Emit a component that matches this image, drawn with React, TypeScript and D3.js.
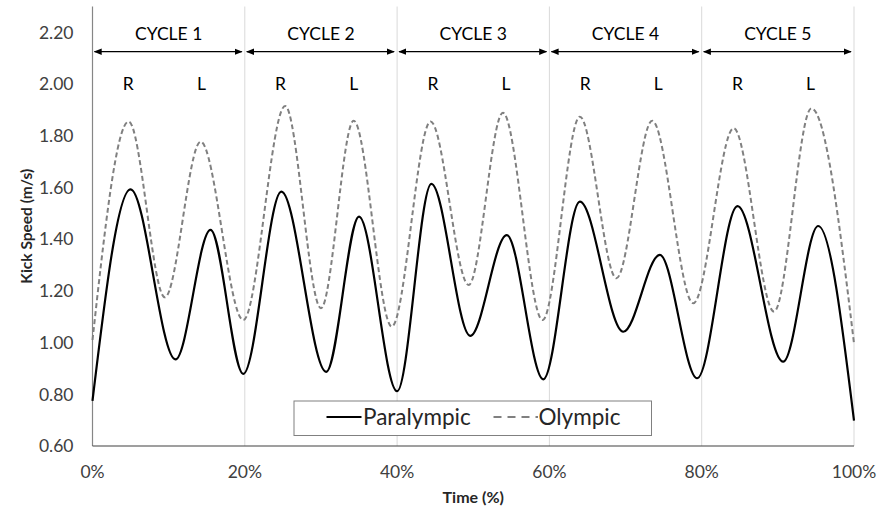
import React from 'react';
import * as d3 from 'd3';

// Paralympic curve: extrema (time %, m/s)
const paraTime = [0, 5.0, 10.9, 15.5, 19.8, 24.8, 30.7, 35.0, 40.0, 44.5, 49.6, 54.4, 59.2, 64.0, 69.7, 74.5, 79.4, 84.7, 90.7, 95.3, 100];
const paraSpeed = [0.775, 1.593, 0.935, 1.436, 0.879, 1.584, 0.887, 1.487, 0.812, 1.614, 1.026, 1.416, 0.858, 1.545, 1.042, 1.339, 0.862, 1.528, 0.926, 1.451, 0.698];

// Olympic curve
const olyTime = [0, 4.75, 9.5, 14.2, 19.8, 25.3, 30.0, 34.3, 39.3, 44.4, 49.4, 53.9, 59.1, 64.0, 68.8, 73.5, 78.9, 84.2, 89.5, 94.4, 100];
const olySpeed = [1.01, 1.855, 1.175, 1.777, 1.087, 1.915, 1.133, 1.858, 1.062, 1.855, 1.223, 1.889, 1.087, 1.874, 1.249, 1.858, 1.152, 1.829, 1.12, 1.906, 0.997];

const yTicks = [0.6, 0.8, 1.0, 1.2, 1.4, 1.6, 1.8, 2.0, 2.2];
const xTicks = [0, 20, 40, 60, 80, 100];
const cycles = ['CYCLE 1', 'CYCLE 2', 'CYCLE 3', 'CYCLE 4', 'CYCLE 5'];
const rlOffsets = [{ label: 'R', at: 4.7 }, { label: 'L', at: 14.3 }];

const W = 877;
const H = 509;
const FONT = 'Lato, "Open Sans", sans-serif';

const App = () => {
  const x = d3.scaleLinear().domain([0, 100]).range([92.5, 854]);
  const y = d3.scaleLinear().domain([0.6, 2.3]).range([446, 6.5]);

  const line = d3.line<[number, number]>()
    .x(d => x(d[0]))
    .y(d => y(d[1]))
    .curve(d3.curveMonotoneX);

  const paraPath = line(paraTime.map((t, i) => [t, paraSpeed[i]])) || '';
  const olyPath = line(olyTime.map((t, i) => [t, olySpeed[i]])) || '';

  const arrowY = 51.7;

  return (
    <svg width={W} height={H} style={{ position: 'absolute', left: 0, top: 0, background: '#fff' }} fontFamily={FONT}>
      <defs>
        <marker id="ah" viewBox="0 0 10 10" refX="9" refY="5" markerWidth="8" markerHeight="8" orient="auto-start-reverse" markerUnits="userSpaceOnUse">
          <path d="M0,1 L10,5 L0,9 Z" fill="#000" />
        </marker>
      </defs>

      {/* vertical gridlines */}
      {xTicks.slice(1).map(t => (
        <line key={t} x1={x(t)} x2={x(t)} y1={y(2.3)} y2={y(0.6)} stroke="#d9d9d9" strokeWidth={1} />
      ))}

      {/* axes */}
      <line x1={x(0)} x2={x(0)} y1={y(2.3)} y2={y(0.6)} stroke="#868686" strokeWidth={1.2} />
      <line x1={x(0)} x2={x(100)} y1={y(0.6)} y2={y(0.6)} stroke="#404040" strokeWidth={1.2} />

      {/* y tick labels */}
      {yTicks.map(v => (
        <text key={v} x={73.5} y={y(v)} dy="0.36em" textAnchor="end" fontSize={17.5} fill="#404040">
          {d3.format('.2f')(v)}
        </text>
      ))}

      {/* x tick labels */}
      {xTicks.map(t => (
        <text key={t} x={x(t)} y={478} textAnchor="middle" fontSize={17.5} fill="#404040">
          {t + '%'}
        </text>
      ))}

      {/* axis titles */}
      <text x={x(50)} y={503} textAnchor="middle" fontSize={16} fontWeight="bold" fill="#262626">Time (%)</text>
      <text transform={`translate(32,${y(1.45)}) rotate(-90)`} textAnchor="middle" fontSize={15.5} fontWeight="bold" fill="#262626">
        Kick Speed (m/s)
      </text>

      {/* cycle annotations */}
      {cycles.map((c, i) => {
        const a = x(i * 20);
        const b = x(i * 20 + 20);
        return (
          <g key={c}>
            <text x={(a + b) / 2} y={39.5} textAnchor="middle" fontSize={17.5} fill="#000">{c}</text>
            <line x1={a + 2} x2={b - 3} y1={arrowY} y2={arrowY} stroke="#000" strokeWidth={1.2}
              markerStart="url(#ah)" markerEnd="url(#ah)" />
            {rlOffsets.map(r => (
              <text key={r.label} x={x(i * 20 + r.at)} y={89.5} textAnchor="middle" fontSize={17.5} fill="#000">{r.label}</text>
            ))}
          </g>
        );
      })}

      {/* series */}
      <path d={olyPath} fill="none" stroke="#808080" strokeWidth={2} strokeDasharray="5,3" />
      <path d={paraPath} fill="none" stroke="#000" strokeWidth={2.2} />

      {/* legend */}
      <g>
        <rect x={294} y={401} width={357.5} height={34.5} fill="#fff" stroke="#808080" strokeWidth={1} />
        <line x1={326.5} x2={361.5} y1={417} y2={417} stroke="#000" strokeWidth={2.2} />
        <text x={363} y={417} dy="0.36em" fontSize={22.5} fill="#262626">Paralympic</text>
        <line x1={493.5} x2={538} y1={417} y2={417} stroke="#808080" strokeWidth={2} strokeDasharray="8,6" />
        <text x={538.5} y={417} dy="0.36em" fontSize={22.5} fill="#262626">Olympic</text>
      </g>
    </svg>
  );
};

export default App;
